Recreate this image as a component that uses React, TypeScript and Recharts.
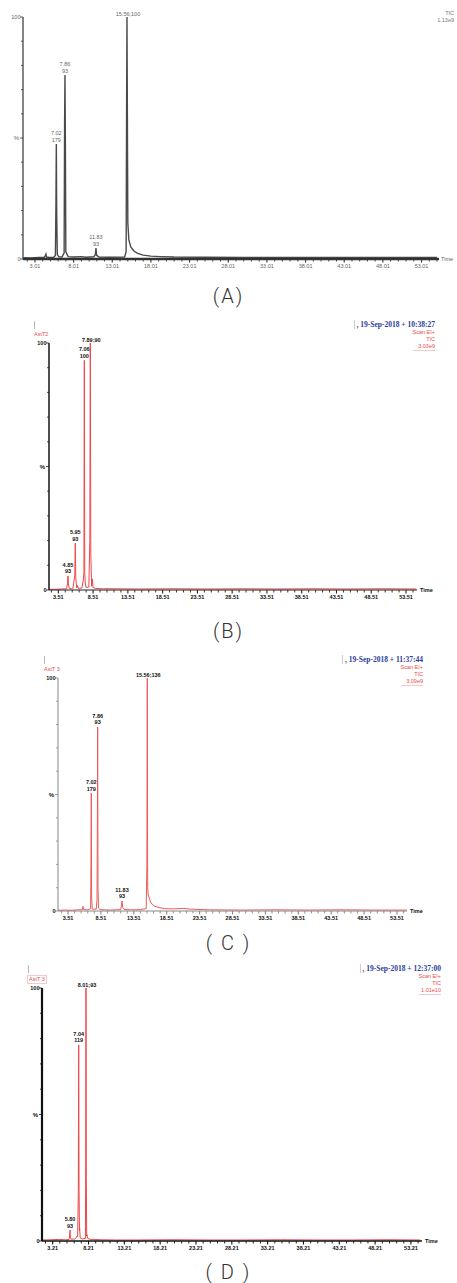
import React from 'react';
import { LineChart, Line, XAxis, YAxis, LabelList } from 'recharts';

// ---- (A) ----
const timeA = [1.5, 2.5, 3.5, 4.2, 4.35, 4.43, 4.5, 4.8, 5.4, 5.65, 5.72, 5.77, 5.82, 5.9, 6.1, 6.5, 6.78, 6.84, 6.89, 6.94, 7.0, 7.3, 8.0, 9.0, 9.6, 10.6, 10.82, 10.9, 10.98, 11.3, 12.5, 14.6, 14.8, 14.86, 14.91, 14.96, 15.02, 15.15, 15.4, 15.8, 16.3, 17.0, 18.0, 19.2, 21, 25, 30, 35, 40, 45, 50, 55];
const intensityA = [0.5, 0.4, 0.6, 0.7, 1.4, 2.0, 0.8, 0.7, 0.6, 1.5, 22, 47.5, 18, 1.8, 0.9, 0.8, 2.5, 56, 76, 50, 3, 1.0, 0.8, 1.0, 0.7, 0.9, 1.8, 4.5, 1.5, 0.8, 0.7, 0.8, 3, 60, 100, 60, 15, 8, 5, 3.3, 2.3, 1.6, 1.2, 1.0, 0.8, 0.7, 0.6, 0.6, 0.6, 0.6, 0.6, 0.6];
const peakTimeA = [5.77, 6.89, 10.9, 14.91];
const peakLabelA = ['7.02\n179', '7.86\n93', '11.83\n93', '15.56;100'];
const tickValueA = [3.01, 8.01, 13.01, 18.01, 23.01, 28.01, 33.01, 38.01, 43.01, 48.01, 53.01];
const tickLabelA = ['3.01', '8.01', '13.01', '18.01', '23.01', '28.01', '33.01', '38.01', '43.01', '48.01', '53.01'];

// ---- (B) ----
const timeB = [2.2, 3.0, 4.0, 4.7, 4.82, 4.9, 4.98, 5.1, 5.6, 5.88, 5.95, 6.02, 6.15, 6.28, 6.4, 6.9, 7.1, 7.19, 7.25, 7.31, 7.38, 7.5, 7.9, 8.04, 8.11, 8.18, 8.3, 8.4, 8.5, 8.9, 10, 12, 15, 20, 25, 30, 35, 40, 45, 50, 55];
const intensityB = [0.3, 0.3, 0.4, 0.5, 2.5, 5.7, 2.0, 0.6, 0.5, 6, 19, 5, 0.8, 1.8, 0.6, 0.8, 4, 7, 93, 7, 3, 1.0, 1.2, 20, 100, 15, 1.5, 4.5, 1.0, 0.6, 0.5, 0.5, 0.4, 0.5, 0.4, 0.5, 0.4, 0.5, 0.4, 0.5, 0.4];
const peakTimeB = [4.9, 5.95, 7.25, 8.11];
const peakLabelB = ['4.85\n93', '5.95\n93', '7.06\n100', '7.89;90'];
const tickValueB = [3.51, 8.51, 13.51, 18.51, 23.51, 28.51, 33.51, 38.51, 43.51, 48.51, 53.51];
const tickLabelB = ['3.51', '8.51', '13.51', '18.51', '23.51', '28.51', '33.51', '38.51', '43.51', '48.51', '53.51'];

// ---- (C) ----
const timeC = [2.0, 3.0, 4.0, 5.0, 5.7, 5.79, 5.88, 6.5, 6.95, 7.0, 7.05, 7.1, 7.2, 7.8, 7.92, 7.97, 8.02, 8.07, 8.15, 8.4, 9, 10, 11.5, 11.62, 11.72, 11.82, 12.0, 13, 14.5, 15.4, 15.5, 15.56, 15.62, 15.7, 15.8, 16.1, 16.7, 17.5, 18.2, 19.5, 21, 22.1, 25, 30, 35, 40, 45, 50, 55];
const intensityC = [0.3, 0.4, 0.3, 0.5, 0.6, 2, 0.6, 0.5, 1.0, 20, 50.6, 6, 0.8, 0.8, 5, 35, 79, 10, 1.2, 0.6, 0.5, 0.4, 0.6, 2, 4.3, 1.5, 0.7, 0.5, 0.6, 1.0, 20, 100, 10, 7, 6, 3.5, 2, 1.4, 1.0, 0.9, 1.1, 0.8, 0.5, 0.4, 0.5, 0.4, 0.5, 0.4, 0.4];
const peakTimeC = [7.05, 8.02, 11.72, 15.56];
const peakLabelC = ['7.02\n179', '7.86\n93', '11.83\n93', '15.56;136'];
const tickValueC = [3.51, 8.51, 13.51, 18.51, 23.51, 28.51, 33.51, 38.51, 43.51, 48.51, 53.51];
const tickLabelC = ['3.51', '8.51', '13.51', '18.51', '23.51', '28.51', '33.51', '38.51', '43.51', '48.51', '53.51'];

// ---- (D) ----
const timeD = [1.8, 3.0, 4.0, 5.0, 5.5, 5.58, 5.63, 5.68, 5.8, 6.3, 6.55, 6.6, 6.7, 6.79, 6.84, 6.89, 6.95, 6.98, 7.05, 7.3, 7.78, 7.82, 7.86, 7.9, 7.96, 8.0, 8.1, 8.4, 9.0, 10, 12, 15, 20, 25, 30, 35, 40, 45, 50, 54.5];
const intensityD = [0.4, 0.5, 0.6, 0.5, 0.6, 2.5, 4.3, 1.5, 0.7, 0.8, 1.5, 2.0, 1.8, 20, 77.5, 20, 4, 5, 1.2, 0.8, 1.0, 30, 100, 25, 2.0, 2.5, 1.0, 0.7, 0.6, 0.5, 0.4, 0.4, 0.5, 0.4, 0.4, 0.5, 0.4, 0.4, 0.5, 0.4];
const peakTimeD = [5.63, 6.84, 7.86];
const peakLabelD = ['5.80\n93', '7.04\n119', '8.01;93'];
const tickValueD = [3.21, 8.21, 13.21, 18.21, 23.21, 28.21, 33.21, 38.21, 43.21, 48.21, 53.21];
const tickLabelD = ['3.21', '8.21', '13.21', '18.21', '23.21', '28.21', '33.21', '38.21', '43.21', '48.21', '53.21'];

const yTicks = [0, 10, 20, 30, 40, 50, 60, 70, 80, 90, 100];
const yLabels: Record<number, string> = { 0: '0', 50: '%', 100: '100' };

function buildRows(times: number[], values: number[], peakTimes: number[], peakLabels: string[]) {
  return times.map((t, i) => {
    const p = peakTimes.indexOf(t);
    return { t, v: values[i], label: p >= 0 ? peakLabels[p] : undefined };
  });
}

// unlabelled minor ticks, one per minute between the labelled ones
function minorTicks(ticks: number[], domain: number[]) {
  const out: number[] = [];
  for (let k = -5; k <= 60; k++) {
    const v = +(ticks[0] + k).toFixed(2);
    if (v > domain[0] && v < domain[1] && k % 5 !== 0) out.push(v);
  }
  return out;
}

const FONT = '"Liberation Sans", Arial, sans-serif';

const panels = [
  {
    key: 'A', rows: buildRows(timeA, intensityA, peakTimeA, peakLabelA), ticks: tickValueA, tickLabels: tickLabelA,
    top: 17, bottom: 259, left: 23, right: 439, domain: [1.46, 55.27],
    line: '#4a4a4a', lineW: 1.4, axis: '#333', yAxisW: 1.2, xAxisW: 2.6, text: '#666', bold: false,
  },
  {
    key: 'B', rows: buildRows(timeB, intensityB, peakTimeB, peakLabelB), ticks: tickValueB, tickLabels: tickLabelB,
    top: 343, bottom: 590, left: 49, right: 417, domain: [2.17, 55.09],
    line: '#f0474a', lineW: 1, axis: '#222', yAxisW: 1.6, xAxisW: 1.2, text: '#111', bold: true,
  },
  {
    key: 'C', rows: buildRows(timeC, intensityC, peakTimeC, peakLabelC), ticks: tickValueC, tickLabels: tickLabelC,
    top: 678, bottom: 911, left: 58, right: 407, domain: [1.99, 55.03],
    line: '#ec5a5a', lineW: 1, axis: '#888', yAxisW: 1, xAxisW: 1, text: '#111', bold: true,
  },
  {
    key: 'D', rows: buildRows(timeD, intensityD, peakTimeD, peakLabelD), ticks: tickValueD, tickLabels: tickLabelD,
    top: 988, bottom: 1241, left: 42, right: 422, domain: [1.72, 54.75],
    line: '#ef4646', lineW: 1, axis: '#111', yAxisW: 2.2, xAxisW: 1.4, text: '#111', bold: true,
  },
];

type Panel = typeof panels[number];

function Chromatogram({ p }: { p: Panel }) {
  const pad = 22;
  const height = p.bottom - p.top + pad + 20;
  const xTicks = [...minorTicks(p.ticks, p.domain), ...p.ticks];

  const XTick = (props: any) => {
    const { x, y, payload } = props;
    const idx = p.ticks.indexOf(payload.value);
    const major = idx >= 0;
    return (
      <g>
        <line x1={x} x2={x} y1={y} y2={y + (major ? 3.5 : 2.5)} stroke={p.axis} strokeWidth={major ? 1.1 : 0.9} />
        {major && (
          <text x={x} y={y + 9} textAnchor="middle" fontSize={5.5} fontFamily={FONT}
            fontWeight={p.bold ? 700 : 400} fill={p.text}>{p.tickLabels[idx]}</text>
        )}
      </g>
    );
  };

  const YTick = (props: any) => {
    const { x, y, payload } = props;
    const lab = yLabels[payload.value];
    return (
      <g>
        <line x1={x} x2={x - (lab ? 3 : 2)} y1={y} y2={y} stroke={p.axis} strokeWidth={0.8} />
        {lab && (
          <text x={x - (lab === '%' ? 4 : 2.5)} y={y + 2} textAnchor="end" fontSize={lab === '%' ? 6 : 5.5}
            fontFamily={FONT} fontWeight={p.bold ? 700 : 400} fill={p.text}>{lab}</text>
        )}
      </g>
    );
  };

  const PeakLabel = (props: any) => {
    const { x, y, value } = props;
    if (!value) return null;
    const parts = String(value).split('\n');
    const common = {
      textAnchor: 'middle' as const, fontSize: 5.5, fontFamily: FONT,
      fontWeight: p.bold ? 700 : 400, fill: p.text,
    };
    if (parts.length === 1) {
      return <text x={x + 1} y={y - 1} {...common}>{parts[0]}</text>;
    }
    return (
      <g>
        <text x={x} y={y - 9} {...common}>{parts[0]}</text>
        <text x={x} y={y - 2.5} {...common}>{parts[1]}</text>
      </g>
    );
  };

  return (
    <div style={{ position: 'absolute', left: 0, top: p.top - pad, width: 457, height }}>
      <LineChart width={457} height={height} data={p.rows}
        margin={{ top: pad, right: 457 - p.right, bottom: 0, left: 0 }}>
        <XAxis dataKey="t" type="number" domain={p.domain} allowDataOverflow ticks={xTicks}
          interval={0} height={20} tickSize={0} tickMargin={0} tickLine={false}
          axisLine={{ stroke: p.axis, strokeWidth: p.xAxisW }} tick={<XTick />} />
        <YAxis type="number" domain={[0, 100]} ticks={yTicks} interval={0} width={p.left}
          tickSize={0} tickMargin={0} tickLine={false}
          axisLine={{ stroke: p.axis, strokeWidth: p.yAxisW }} tick={<YTick />} />
        <Line type="linear" dataKey="v" stroke={p.line} strokeWidth={p.lineW} dot={false}
          isAnimationActive={false}>
          <LabelList dataKey="label" content={<PeakLabel />} />
        </Line>
      </LineChart>
    </div>
  );
}

const abs = (x: number, y: number, extra: React.CSSProperties = {}): React.CSSProperties => ({
  position: 'absolute', left: x, top: y, whiteSpace: 'nowrap', ...extra,
});

const small: React.CSSProperties = { fontFamily: FONT, fontSize: 5.5, lineHeight: '7px' };
const red = '#e84c4c';
const blue = '#2c3c9c';

function Header({ top, right, date, scale, tag, tagLeft, boxed }: {
  top: number; right: number; date: string; scale: string; tag: string; tagLeft: number; boxed?: boolean;
}) {
  return (
    <>
      <div style={abs(tagLeft + 1, top - 12, { width: 1, height: 8, background: '#bbb' })} />
      <div style={abs(tagLeft, top - 2, { ...small, color: red, border: boxed ? '1px solid #f3c9c9' : 'none', padding: '0 1px' })}>{tag}</div>
      <div style={{
        position: 'absolute', right: 457 - right, top: top - 13, whiteSpace: 'nowrap',
        fontFamily: '"Liberation Serif", serif', fontWeight: 700, fontSize: 7.5, color: blue,
        borderLeft: '1px solid #ccc', paddingLeft: 2,
      }}>{', ' + date}</div>
      <div style={{ position: 'absolute', right: 457 - right, top: top - 4, textAlign: 'right', ...small, color: red }}>
        <div>{'Scan EI+'}</div>
        <div>{'TIC'}</div>
        <div style={{ borderBottom: '1px solid #f3c9c9' }}>{scale}</div>
      </div>
    </>
  );
}

const caption: React.CSSProperties = {
  position: 'absolute', left: 0, width: 457, textAlign: 'center',
  fontFamily: 'Roboto, "DejaVu Sans", sans-serif', fontWeight: 300, fontSize: 20, color: '#333',
  letterSpacing: 2, lineHeight: '24px',
};

export default function App() {
  return (
    <div style={{ position: 'absolute', left: 0, top: 0, width: 457, height: 1283, background: '#fff', overflow: 'hidden' }}>
      {panels.map((p) => <Chromatogram key={p.key} p={p} />)}

      {/* (A) annotations */}
      <div style={{ position: 'absolute', right: 3, top: 10, textAlign: 'right', ...small, color: '#777' }}>
        <div>TIC</div>
        <div>1.13e9</div>
      </div>
      <div style={abs(441, 256, { ...small, color: '#666' })}>Time</div>

      {/* (B) */}
      <Header top={333} right={435} date="19-Sep-2018 + 10:38:27" scale="3.03e9" tag="AstT2" tagLeft={33} />
      <div style={abs(420, 587, { ...small, fontWeight: 700, color: '#111' })}>Time</div>

      {/* (C) */}
      <Header top={668} right={423} date="19-Sep-2018 + 11:37:44" scale="3.09e9" tag="AstT 3" tagLeft={43} />
      <div style={abs(410, 908, { ...small, fontWeight: 700, color: '#111' })}>Time</div>

      {/* (D) */}
      <Header top={977} right={441} date="19-Sep-2018 + 12:37:00" scale="1.01e10" tag="AstT 3" tagLeft={27} boxed />
      <div style={abs(425, 1238, { ...small, fontWeight: 700, color: '#111' })}>Time</div>

      <div style={{ ...caption, top: 284 }}>(A)</div>
      <div style={{ ...caption, top: 619 }}>(B)</div>
      <div style={{ ...caption, top: 931 }}>( C )</div>
      <div style={{ ...caption, top: 1260 }}>( D )</div>
    </div>
  );
}
